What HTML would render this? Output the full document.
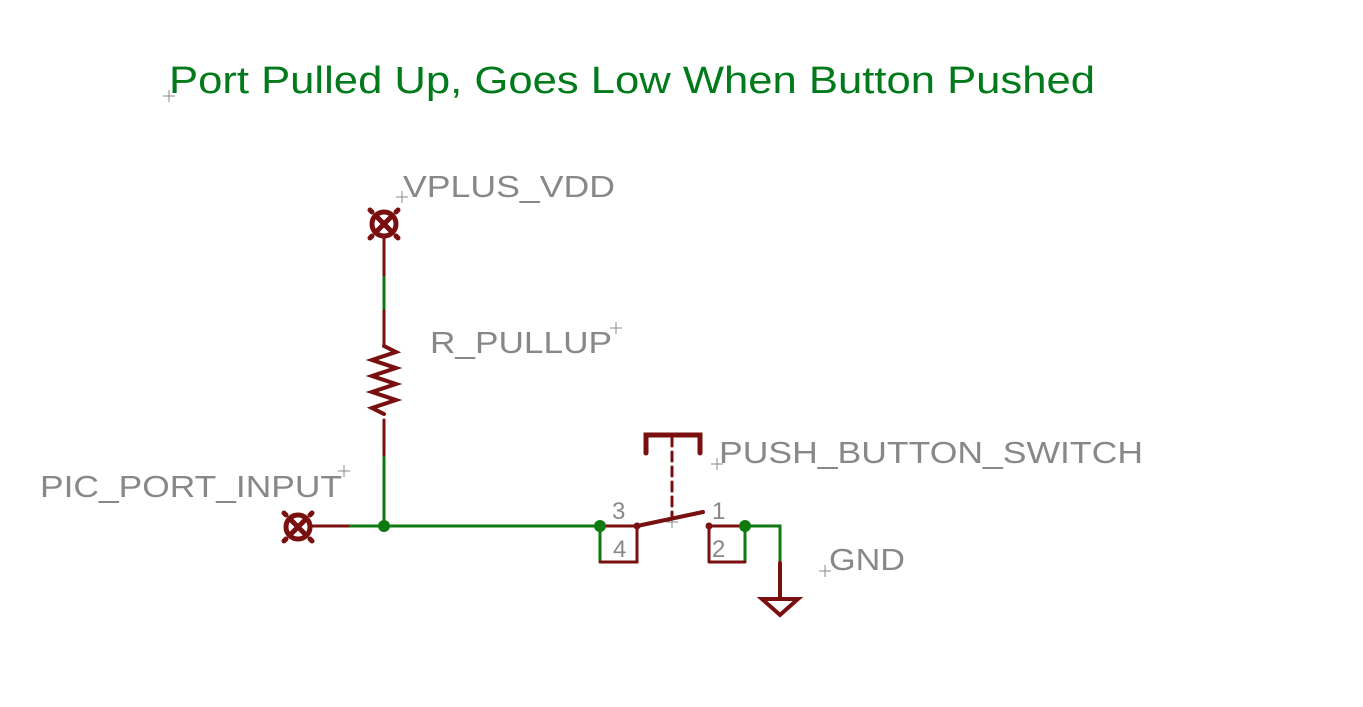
<!DOCTYPE html>
<html><head><style>body{margin:0;background:#fff}svg{display:block}</style></head><body>
<svg width="1363" height="707" viewBox="0 0 1363 707" xmlns="http://www.w3.org/2000/svg" font-family="Liberation Sans, sans-serif">
<g stroke="#888" stroke-width="1" fill="none">
<path d="M163 96h12M169 90v12"/><path d="M396 197h12M402 191v12"/><path d="M610 328h12M616 322v12"/>
<path d="M338 471h12M344 465v12"/><path d="M711 464h12M717 458v12"/><path d="M819 571h12M825 565v12"/>
<path d="M666 522h12M672 516v12"/>
</g>
<text x="169" y="93" font-size="38" fill="#007a1a" textLength="926" lengthAdjust="spacingAndGlyphs">Port Pulled Up, Goes Low When Button Pushed</text>
<g fill="#888" font-size="31">
<text x="403" y="197" textLength="212" lengthAdjust="spacingAndGlyphs">VPLUS_VDD</text>
<text x="430" y="353" textLength="182" lengthAdjust="spacingAndGlyphs">R_PULLUP</text>
<text x="40" y="497" textLength="302" lengthAdjust="spacingAndGlyphs">PIC_PORT_INPUT</text>
<text x="719" y="463" textLength="424" lengthAdjust="spacingAndGlyphs">PUSH_BUTTON_SWITCH</text>
<text x="829" y="570" textLength="76" lengthAdjust="spacingAndGlyphs">GND</text>
<text x="612" y="519" font-size="24">3</text>
<text x="613" y="557" font-size="24">4</text>
<text x="712" y="519" font-size="24">1</text>
<text x="712" y="557" font-size="24">2</text>
</g>
<g stroke="#0f7a0f" stroke-width="3" fill="none">
<path d="M384 275v36M384 455v71M348 526h252M600 526v36M745 526v36M745 526h35v37"/>
</g>
<g stroke="#7a0f0f" stroke-width="3" fill="none" stroke-linecap="round">
<path d="M384 237v38M384 311v35M384 420v35"/>
<path d="M384 346l12 6-24 8 24 8-24 8 24 8-24 8 24 8-24 8 12 6" stroke-width="4"/>
<path d="M312 526h36"/>
<path d="M600 526h37M600 562h37v-36M709 526h36M709 562h36M709 526v36"/>
<path d="M637 526l66 -14" stroke-width="4"/>
<path d="M646 453v-18h54v18" stroke-width="5"/>
<path d="M672 437v80" stroke-dasharray="9 6"/>
<path d="M780 563v35M762 599h36l-18 16z" stroke-width="4"/>
<g stroke-width="5"><circle cx="384" cy="224" r="12"/><path d="M377 217l14 14M391 217l-14 14M372 212l-2-2M396 212l2-2M372 236l-2 2M396 236l2 2"/>
<circle cx="298" cy="527" r="12"/><path d="M291 520l14 14M305 520l-14 14M286 515l-2-2M310 515l2-2M286 539l-2 2M310 539l2 2"/></g>
</g>
<g fill="#0f7a0f"><circle cx="384" cy="526" r="6"/><circle cx="600" cy="526" r="6"/><circle cx="745" cy="526" r="6"/></g>
<g fill="#7a0f0f"><circle cx="637" cy="526" r="3.5"/><circle cx="709" cy="526" r="3.5"/></g>
</svg>
</body></html>
